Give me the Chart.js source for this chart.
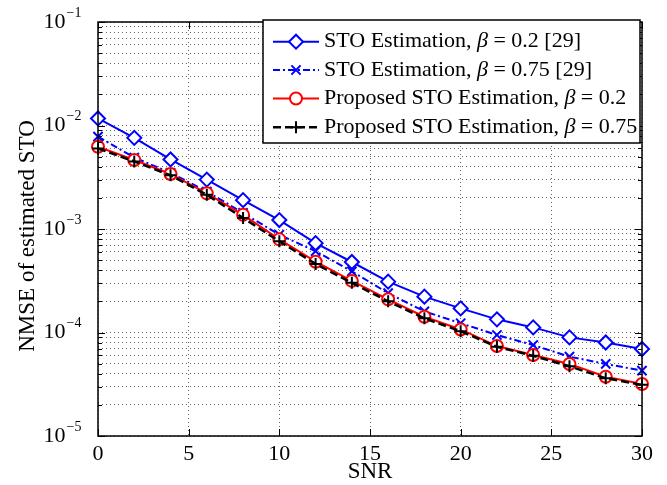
<!DOCTYPE html>
<html>
<head>
<meta charset="utf-8">
<script src="https://cdn.jsdelivr.net/npm/chart.js"></script>
<style>
  html, body { margin: 0; padding: 0; background: #fff; }
  #wrap { width: 667px; height: 485px; }
</style>
</head>
<body>
<div id="wrap"><canvas id="nmse" width="667" height="485"></canvas></div>
<script>
// data
const snr = [0, 2, 4, 6, 8, 10, 12, 14, 16, 18, 20, 22, 24, 26, 28, 30];
const stoBeta02 = [0.0117, 0.0076, 0.0047, 0.0030, 0.0019, 0.00122, 0.00073, 0.00048, 0.00031, 0.000222, 0.000171, 0.000134, 0.000112, 0.0000897, 0.000080, 0.0000693];
const stoBeta075 = [0.0078, 0.0049, 0.0035, 0.0023, 0.00143, 0.00088, 0.00061, 0.00039, 0.00024, 0.00016, 0.000123, 0.0000946, 0.0000757, 0.0000584, 0.0000497, 0.0000428];
const propBeta02 = [0.00624, 0.00464, 0.0034, 0.00221, 0.00137, 0.000794, 0.000483, 0.000315, 0.000209, 0.000142, 0.000107, 0.000074, 0.0000607, 0.0000497, 0.0000374, 0.0000318];
const propBeta075 = [0.0060, 0.0045, 0.0033, 0.00214, 0.00128, 0.00076, 0.00046, 0.000302, 0.000200, 0.000137, 0.000103, 0.0000728, 0.0000595, 0.0000472, 0.0000362, 0.0000312];

const xTicks = [0, 5, 10, 15, 20, 25, 30];
const yDecades = [-5, -4, -3, -2, -1];

// legend text: [before beta, after beta]
const legendText = [
  ['STO Estimation, ', ' = 0.2 [29]'],
  ['STO Estimation, ', ' = 0.75 [29]'],
  ['Proposed STO Estimation, ', ' = 0.2'],
  ['Proposed STO Estimation, ', ' = 0.75']
];

const serif = "'Liberation Serif', 'Times New Roman', serif";

const styles = [
  { color: '#0000ff', dash: [], point: 'rectRot', r: 7, fill: '#ffffff', w: 2 },
  { color: '#0000ff', dash: [7, 3, 2, 3], point: 'crossRot', r: 6.5, fill: '#0000ff', w: 2 },
  { color: '#ff0000', dash: [], point: 'circle', r: 6, fill: '#ffffff', w: 2 },
  { color: '#000000', dash: [8, 4], point: 'cross', r: 6, fill: '#000000', w: 2.5 }
];

const series = [stoBeta02, stoBeta075, propBeta02, propBeta075];

const datasets = series.map((vals, i) => ({
  data: snr.map((x, k) => ({ x: x, y: vals[k] })),
  borderColor: styles[i].color,
  borderWidth: styles[i].w,
  borderDash: styles[i].dash,
  pointStyle: styles[i].point,
  pointRadius: styles[i].r,
  pointBorderWidth: 2,
  pointBorderColor: styles[i].color,
  pointBackgroundColor: styles[i].fill,
  tension: 0,
  clip: false,
  order: 3 - i
}));

function marker(ctx, st, x, y) {
  ctx.save();
  ctx.strokeStyle = st.color;
  ctx.fillStyle = st.fill;
  ctx.lineWidth = 2;
  ctx.setLineDash([]);
  Chart.helpers.drawPoint(ctx, { pointStyle: st.point, radius: st.r, borderWidth: 2, rotation: 0 }, x, y);
  ctx.restore();
}

const matlabAxes = {
  id: 'matlabAxes',
  afterDraw(chart) {
    const { ctx, chartArea: a, scales } = chart;
    const ys = scales.y, xs = scales.x;
    ctx.save();

    // inner tick marks
    ctx.strokeStyle = '#000';
    ctx.lineWidth = 1;
    ctx.beginPath();
    ys.ticks.forEach(t => {
      const py = Math.round(ys.getPixelForValue(t.value)) + 0.5;
      const len = t.major ? 7 : 4;
      ctx.moveTo(a.left, py); ctx.lineTo(a.left + len, py);
      ctx.moveTo(a.right, py); ctx.lineTo(a.right - len, py);
    });
    xTicks.forEach(v => {
      const px = Math.round(xs.getPixelForValue(v)) + 0.5;
      ctx.moveTo(px, a.bottom); ctx.lineTo(px, a.bottom - 7);
      ctx.moveTo(px, a.top); ctx.lineTo(px, a.top + 7);
    });
    ctx.stroke();

    // box
    ctx.lineWidth = 1.5;
    ctx.strokeRect(a.left, a.top, a.right - a.left, a.bottom - a.top);

    // y labels 10^n
    ctx.fillStyle = '#000';
    yDecades.forEach(e => {
      const py = ys.getPixelForValue(Math.pow(10, e));
      ctx.font = '22px ' + serif;
      ctx.textAlign = 'right';
      ctx.textBaseline = 'middle';
      ctx.fillText('10', 65.5, py);
      ctx.font = '14px ' + serif;
      ctx.textAlign = 'left';
      ctx.fillText('\u2212' + Math.abs(e), 66.5, py - 9);
    });

    // axis titles
    ctx.font = '23px ' + serif;
    ctx.textAlign = 'center';
    ctx.textBaseline = 'middle';
    ctx.fillText('SNR', (a.left + a.right) / 2, 472);
    ctx.save();
    ctx.translate(28, 236);
    ctx.rotate(-Math.PI / 2);
    ctx.fillText('NMSE of estimated STO', 0, 0);
    ctx.restore();

    // legend
    const bx = 263, by = 20, bw = 377, bh = 123;
    ctx.fillStyle = '#fff';
    ctx.fillRect(bx, by, bw, bh);
    ctx.strokeStyle = '#000';
    ctx.lineWidth = 1.5;
    ctx.strokeRect(bx, by, bw, bh);
    const rows = [41.7, 70, 98.5, 127.3];
    legendText.forEach((txt, i) => {
      const st = styles[i];
      const ry = rows[i];
      ctx.save();
      ctx.strokeStyle = st.color;
      ctx.lineWidth = st.w;
      ctx.setLineDash(st.dash);
      ctx.beginPath();
      ctx.moveTo(273, ry); ctx.lineTo(319, ry);
      ctx.stroke();
      ctx.restore();
      marker(ctx, st, 296, ry);

      ctx.fillStyle = '#000';
      ctx.textAlign = 'left';
      ctx.textBaseline = 'middle';
      let tx = 324;
      ctx.font = '22px ' + serif;
      ctx.fillText(txt[0], tx, ry);
      tx += ctx.measureText(txt[0]).width;
      ctx.font = 'italic 22px ' + serif;
      ctx.fillText('\u03b2', tx, ry);
      tx += ctx.measureText('\u03b2').width;
      ctx.font = '22px ' + serif;
      ctx.fillText(txt[1], tx, ry);
    });

    ctx.restore();
  }
};

new Chart(document.getElementById('nmse'), {
  type: 'line',
  data: { datasets: datasets },
  options: {
    responsive: false,
    animation: false,
    devicePixelRatio: 1,
    layout: { padding: { left: 0, right: 25, top: 22, bottom: 0 } },
    plugins: { legend: { display: false }, tooltip: { enabled: false } },
    scales: {
      x: {
        type: 'linear',
        min: 0, max: 30,
        afterBuildTicks: s => { s.ticks = xTicks.map(v => ({ value: v })); },
        afterFit: s => { s.height = 49; },
        ticks: { color: '#000', font: { family: serif, size: 22 }, padding: 5, maxRotation: 0 },
        grid: { color: 'rgba(0,0,0,0.6)', drawTicks: false, lineWidth: 1 },
        border: { display: false, dash: [1, 3] }
      },
      y: {
        type: 'logarithmic',
        min: 1e-5, max: 1e-1,
        afterBuildTicks: s => {
          const t = [];
          yDecades.forEach(e => {
            for (let m = 1; m <= 9; m++) {
              if (e === -1 && m > 1) break;
              t.push({ value: Number((m * Math.pow(10, e)).toPrecision(2)), major: m === 1 });
            }
          });
          s.ticks = t;
        },
        afterFit: s => { s.width = 98; },
        ticks: { display: false },
        grid: { color: 'rgba(0,0,0,0.6)', drawTicks: false, lineWidth: 1 },
        border: { display: false, dash: [1, 3] }
      }
    }
  },
  plugins: [matlabAxes]
});
</script>
</body>
</html>
